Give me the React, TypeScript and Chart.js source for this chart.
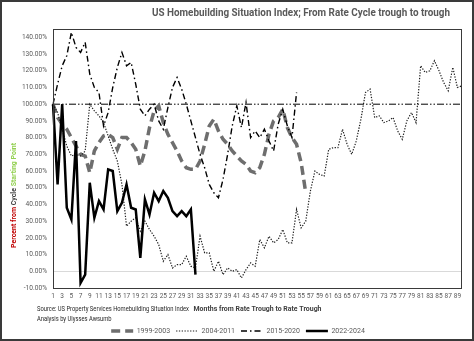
import { useEffect, useRef } from 'react';
import { Chart, registerables } from 'chart.js';

Chart.register(...registerables);

// ---------- data ----------
const months = [
  '1','2','3','4','5','6','7','8','9','10','11','12','13','14','15','16','17','18','19','20',
  '21','22','23','24','25','26','27','28','29','30','31','32','33','34','35','36','37','38','39','40',
  '41','42','43','44','45','46','47','48','49','50','51','52','53','54','55','56','57','58','59','60',
  '61','62','63','64','65','66','67','68','69','70','71','72','73','74','75','76','77','78','79','80',
  '81','82','83','84','85','86','87','88','89','90',
];

const cycle1999 = [
  100, 92, 88, 85, 80, 75, 70, 69, 59, 72,
  77, 81, 82, 80, 73, 80, 80, 77, 73, 63,
  72, 86, 96, 99, 89, 82, 77, 72, 66, 62,
  61, 61, 66, 76, 87, 91, 84, 79, 76, 72,
  69, 66, 64, 60, 59, 62, 70, 82, 90, 92,
  97, 86, 80, 76, 65, 47,
];

const cycle2004 = [
  100, 95, 85, 75, 69, 70, 69, 72, 100, 96,
  93, 89, 81, 73, 66, 52, 27, 30, 32, 24,
  30, 25, 21, 16, 6, 10, 2, 4, 4, 9,
  3, 2, 21, 11, 11, 0, 6, -2, 2, 0,
  1, -4, 1, 5, 3, 19, 14, 21, 17, 19,
  25, 17, 17, 37, 26, 30, 48, 60, 58, 57,
  73, 74, 74, 85, 76, 70, 78, 91, 107, 109,
  92, 93, 89, 90, 92, 84, 79, 90, 95, 89,
  123, 119, 120, 126, 120, 113, 108, 122, 110, 111,
];

const cycle2015 = [
  100, 112, 123, 129, 143, 134, 131, 137, 118, 110,
  107, 87, 95, 110, 122, 131, 123, 125, 112, 97,
  93, 97, 100, 90, 85, 98, 110, 116, 109, 100,
  90, 80, 70, 62, 52, 47, 44, 55, 70, 87,
  99, 86, 101, 80, 84, 80, 85, 78, 72, 88,
  97, 87, 80, 107,
];

const cycle2022 = [
  100, 52, 100, 38, 31, 78, -7, -2, 53, 32,
  42, 37, 61, 60, 36, 41, 52, 38, 37, 8,
  43, 34, 47, 42, 48, 44, 36, 33, 36, 33,
  37, -2,
];

const referenceCats = ['1', '90'];
const referenceValues = [100, 100];

const seriesLabels = ['1999-2003', '2004-2011', '2015-2020', '2022-2024'];

const TITLE = 'US Homebuilding Situation Index; From Rate Cycle trough to trough';
const X_TITLE = 'Months from Rate Trough to Rate Trough';
const Y_TITLE_PARTS = [
  { text: 'Percent from ', color: '#c00000' },
  { text: 'Cycle ', color: '#404040' },
  { text: 'Starting Point', color: '#92d050' },
];
const SOURCE_LINES = [
  'Source: US Property Services Homebuilding Situation Index',
  'Analysis by Ulysses Awsumb',
];

const FONT = "'Roboto', 'Liberation Sans', sans-serif";

const decorPlugin = {
  id: 'decor',
  afterDraw(chart: any) {
    const { ctx, chartArea: a } = chart;
    ctx.save();
    // plot border
    ctx.strokeStyle = '#3a3a3a';
    ctx.lineWidth = 1;
    ctx.setLineDash([]);
    ctx.strokeRect(Math.round(a.left) + 0.5, Math.round(a.top) + 0.5,
      Math.round(a.right - a.left) - 1, Math.round(a.bottom - a.top));

    // chart title
    ctx.font = `bold 11px ${FONT}`;
    ctx.fillStyle = '#595959';
    ctx.textAlign = 'center';
    ctx.textBaseline = 'middle';
    ctx.fillText(TITLE, 299, 11, 298);

    // x axis title
    ctx.font = `bold 8px ${FONT}`;
    ctx.fillStyle = '#404040';
    ctx.fillText(X_TITLE, (a.left + a.right) / 2, 307, 128);

    // source
    ctx.font = `7px ${FONT}`;
    ctx.fillStyle = '#262626';
    ctx.textAlign = 'left';
    const w0 = ctx.measureText(SOURCE_LINES[0]).width;
    const f = Math.min(1, 152 / w0);
    ctx.save();
    ctx.translate(35, 0);
    ctx.scale(f, 1);
    ctx.fillText(SOURCE_LINES[0], 0, 307);
    ctx.fillText(SOURCE_LINES[1], 0, 317);
    ctx.restore();

    // y axis title (multi-coloured)
    ctx.font = `bold 8px ${FONT}`;
    const widths = Y_TITLE_PARTS.map((p) => ctx.measureText(p.text).width);
    const total = widths.reduce((s, v) => s + v, 0);
    const g = Math.min(1, 105 / total);
    ctx.save();
    ctx.translate(12, 193.5);
    ctx.rotate(-Math.PI / 2);
    ctx.scale(g, 1);
    let x = -total / 2;
    Y_TITLE_PARTS.forEach((p, i) => {
      ctx.fillStyle = p.color;
      ctx.fillText(p.text, x, 0);
      x += widths[i];
    });
    ctx.restore();

    ctx.restore();
  },
};

export default function App() {
  const ref = useRef<HTMLCanvasElement | null>(null);

  useEffect(() => {
    if (!ref.current) return;
    const chart = new Chart(ref.current, {
      type: 'line',
      data: {
        labels: months,
        datasets: [
          {
            label: seriesLabels[0], data: cycle1999, borderColor: '#6e6e6e', borderWidth: 3.5,
            borderDash: [9, 5], pointRadius: 0, tension: 0, fill: false, order: 3,
          },
          {
            label: seriesLabels[1], data: cycle2004, borderColor: '#1e1e1e', borderWidth: 1.2,
            borderDash: [1.3, 1.5], pointRadius: 0, tension: 0, fill: false, order: 2,
          },
          {
            label: seriesLabels[2], data: cycle2015, borderColor: '#000000', borderWidth: 1.4,
            borderDash: [6, 3, 1.5, 3], pointRadius: 0, tension: 0, fill: false, order: 1,
          },
          {
            label: seriesLabels[3], data: cycle2022, borderColor: '#000000', borderWidth: 2.5,
            borderDash: [], pointRadius: 0, tension: 0, fill: false, order: 0,
          },
          {
            label: '', data: referenceCats.map((c, i) => ({ x: c, y: referenceValues[i] })) as any,
            borderColor: '#000000', borderWidth: 1, borderDash: [7, 2, 1.5, 2, 1.5, 2],
            pointRadius: 0, tension: 0, fill: false, order: 4,
          },
        ],
      },
      options: {
        responsive: true,
        maintainAspectRatio: false,
        animation: false,
        layout: { padding: { top: 27, right: 10, bottom: 0, left: 12 } },
        plugins: {
          title: { display: false },
          tooltip: { enabled: false },
          legend: {
            position: 'bottom',
            maxHeight: 17.5,
            labels: {
              usePointStyle: true,
              pointStyleWidth: 22,
              boxHeight: 7,
              padding: 6,
              color: '#595959',
              font: { family: FONT, size: 7 },
              generateLabels: (c: any) =>
                c.data.datasets
                  .map((ds: any, i: number) => ({
                    text: ds.label,
                    strokeStyle: ds.borderColor,
                    fillStyle: ds.borderColor,
                    lineWidth: ds.borderWidth,
                    lineDash: ds.borderDash,
                    pointStyle: 'line',
                    hidden: false,
                    datasetIndex: i,
                    fontColor: '#595959',
                  }))
                  .filter((it: any) => it.text !== ''),
            },
          },
        },
        scales: {
          x: {
            type: 'category',
            offset: false,
            grid: { display: false, drawTicks: false },
            border: { display: false },
            ticks: {
              autoSkip: false,
              maxRotation: 0,
              minRotation: 0,
              padding: 4.5,
              color: '#595959',
              font: { family: FONT, size: 6.5 },
              callback: (_v: any, index: number) => (index % 2 === 0 ? months[index] : ''),
            },
            afterFit: (s: any) => { s.height = 33.5; },
          },
          y: {
            min: -10,
            max: 145,
            grid: {
              drawTicks: false,
              lineWidth: 1,
              color: (c: any) => (c.tick && c.tick.value === 0 ? '#d9d9d9' : 'rgba(0,0,0,0)'),
            },
            border: { display: false },
            ticks: {
              stepSize: 10,
              includeBounds: false,
              padding: 6,
              color: '#595959',
              font: { family: FONT, size: 6.6 },
              callback: (v: any) => Number(v).toFixed(2) + '%',
            },
            afterFit: (s: any) => { s.width = 39; },
          },
        },
      } as any,
      plugins: [decorPlugin],
    });
    return () => chart.destroy();
  }, []);

  return (
    <div
      style={{
        position: 'absolute', left: 0, top: 0, width: 474, height: 341,
        boxSizing: 'border-box', border: '2px solid #3a3a3a', background: '#ffffff',
      }}
    >
      <div style={{ position: 'relative', width: 470, height: 337 }}>
        <canvas ref={ref} />
      </div>
    </div>
  );
}
